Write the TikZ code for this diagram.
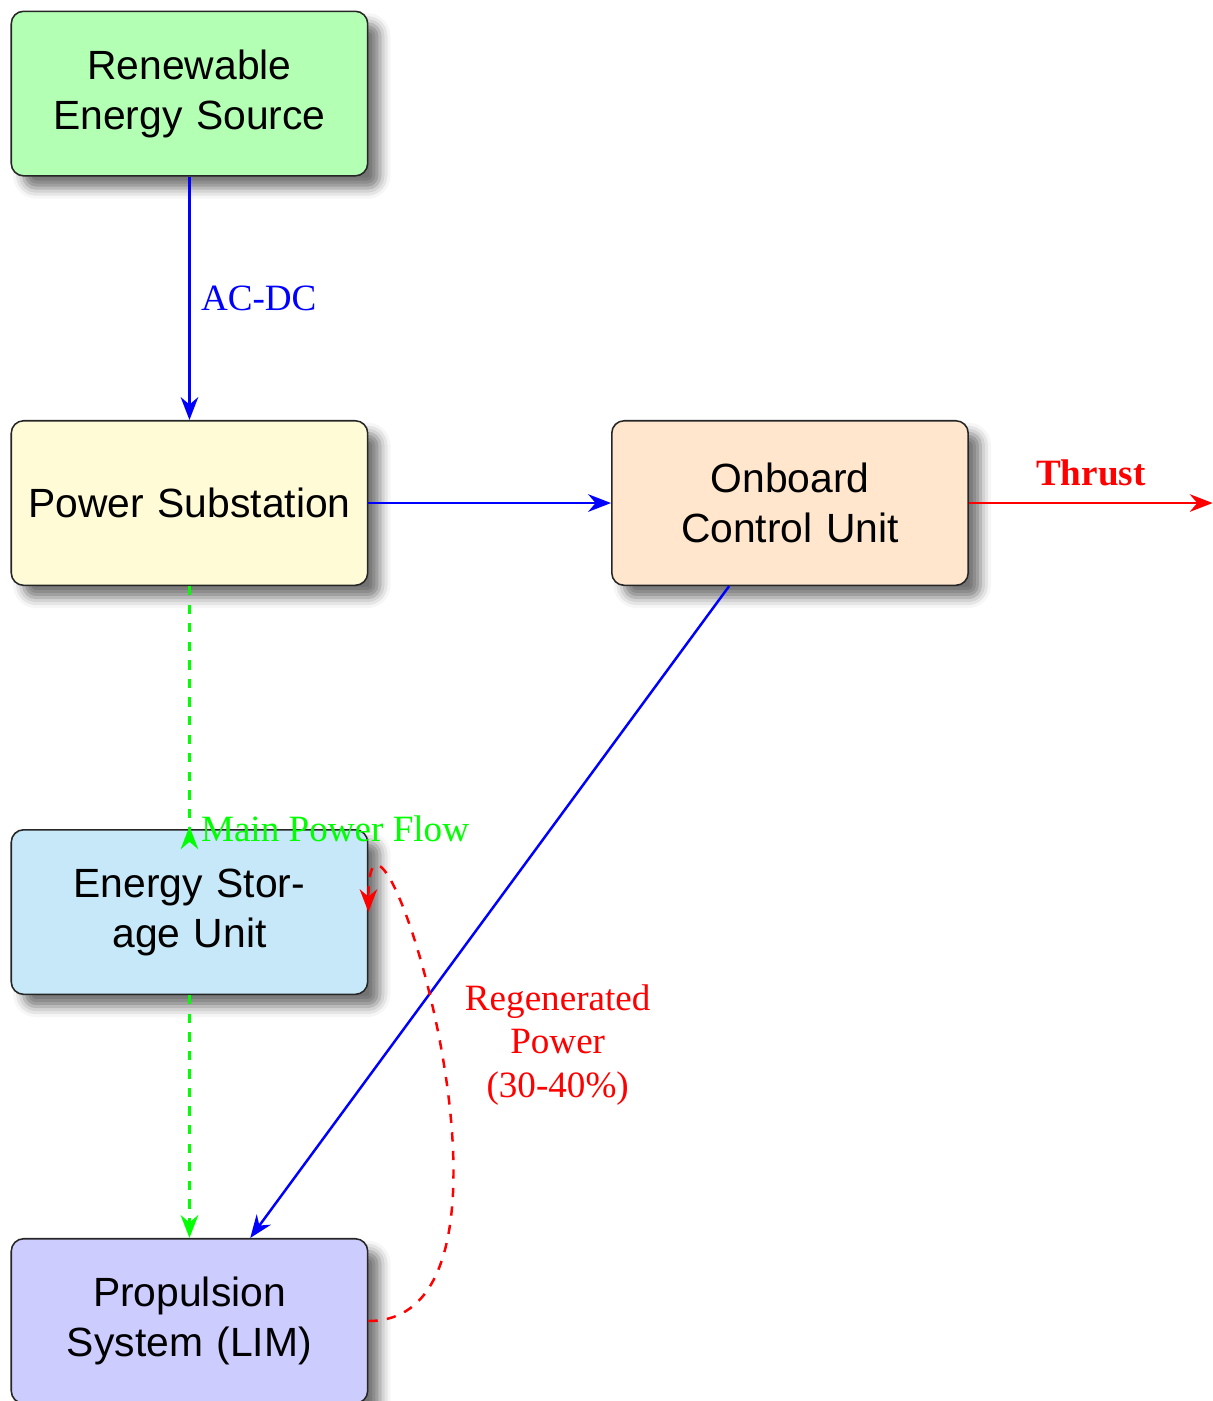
\documentclass[tikz,border=0pt]{standalone}
\usepackage{fontspec}
\setmainfont{Liberation Serif}
\setsansfont{Liberation Sans}
\usetikzlibrary{arrows.meta,positioning,shadows.blur}
\definecolor{renewfill}{HTML}{B3FFB3}
\definecolor{substfill}{HTML}{FFFBD6}
\definecolor{ctrlfill}{HTML}{FFE6CC}
\definecolor{storefill}{HTML}{C6E8F8}
\definecolor{propfill}{HTML}{CCCCFF}
\tikzset{
  unitbox/.style={draw=black!85,line width=0.5pt,rounded corners=4pt,
                  align=center,text width=3.8cm,minimum width=4.05cm,
                  minimum height=1.87cm,
                  font=\sffamily\fontsize{13.2}{16.2}\selectfont,
                  blur shadow={shadow xshift=1.4mm,shadow yshift=-1.4mm,
                               shadow blur radius=1.2mm,shadow opacity=55}},
  lbl/.style={font=\large,align=center},
  bluearr/.style={-{Stealth[length=2.6mm,width=2mm]},thick,draw=blue},
  redarr/.style={-{Stealth[length=2.6mm,width=2mm]},thick,draw=red},
  greenarr/.style={-{Stealth[length=2.6mm,width=2mm]},thick,dashed,
                   draw=green}
}
\begin{document}
\begin{tikzpicture}[x=1cm,y=1cm]
    \path[use as bounding box] (0,0) rectangle (13.78,-15.92);
    \node[unitbox,fill=renewfill] (renew) at (2.153,-1.063)
      {Renewable Energy Source};
    \node[unitbox,fill=substfill] (subst) at (2.153,-5.716)
      {Power Substation};
    \node[unitbox,fill=ctrlfill] (ctrl) at (8.977,-5.716)
      {Onboard Control Unit};
    \node[unitbox,fill=storefill] (store) at (2.153,-10.364)
      {Energy Storage Unit};
    \node[unitbox,fill=propfill] (prop) at (2.153,-15.011)
      {Propulsion System (LIM)};
    \coordinate (thrustend) at (13.78,-5.716);
    % connectors
    \draw[bluearr] (renew) -- (subst)
      node[midway,right,lbl,text=blue] {AC-DC};
    \draw[bluearr] (subst) -- (ctrl);
    \draw[bluearr] (ctrl) -- (prop);
    \draw[redarr] (ctrl) -- (thrustend)
      node[midway,above=0.6mm,lbl,text=red,font=\large\bfseries] {Thrust};
    \draw[greenarr,-{Stealth[length=2.6mm,width=2mm,reversed]},
          shorten >=-2.3mm] (subst) -- (store.north)
      node[at end,right,lbl,text=green] {Main Power Flow};
    \draw[greenarr] (store) -- (prop);
    \draw[redarr,dashed] (prop.east) to[out=0,in=90,looseness=1.2]
      node[midway,right=1.5mm,lbl,text=red] {Regenerated\\Power\\(30-40\%)}
      (store.east);
  \end{tikzpicture}
\end{document}
